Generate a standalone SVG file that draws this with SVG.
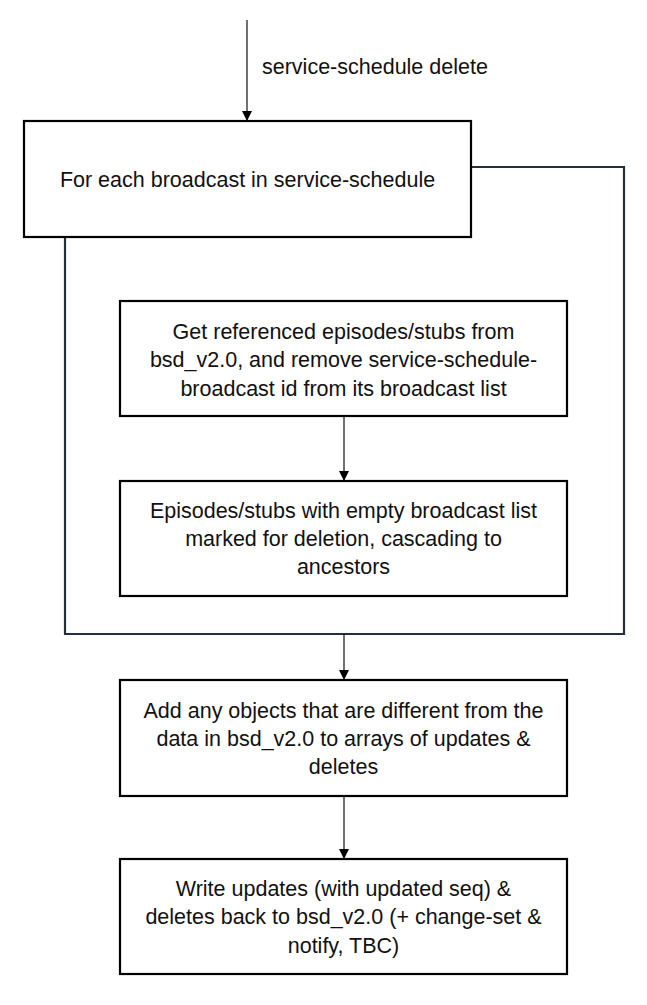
<svg xmlns="http://www.w3.org/2000/svg" width="647" height="1005" viewBox="0 0 647 1005">
<style>
.box{fill:#fff;stroke:#000;stroke-width:2.2}
.t{font-family:"Liberation Sans",Arial,sans-serif;font-size:21.5px;fill:#111;text-anchor:middle}
.lbl{font-family:"Liberation Sans",Arial,sans-serif;font-size:21.5px;fill:#111}
.conn{fill:none;stroke:#111;stroke-width:1.2}
.loop{fill:none;stroke:#26303c;stroke-width:2.2}
</style>
<defs>
<marker id="ah" viewBox="0 0 10 10" refX="10" refY="5" markerWidth="10" markerHeight="10" markerUnits="userSpaceOnUse" orient="auto">
<path d="M0,0 L10,5 L0,10 Z" fill="#000"/>
</marker>
</defs>
<rect width="647" height="1005" fill="#fff"/>
<g id="connectors">
<line class="conn" x1="247" y1="20" x2="247" y2="121" marker-end="url(#ah)"/>
<text class="lbl" x="262" y="74">service-schedule delete</text>
<polyline class="loop" points="471,167 624,167 624,634 65,634 65,237"/>
<line class="conn" x1="344" y1="416" x2="344" y2="481" marker-end="url(#ah)"/>
<line class="conn" x1="344" y1="634" x2="344" y2="680" marker-end="url(#ah)"/>
<line class="conn" x1="344" y1="796" x2="344" y2="859" marker-end="url(#ah)"/>
</g>
<g id="node-foreach">
<rect class="box" x="24" y="121" width="447" height="116"/>
<text class="t" x="247.5" y="187">For each broadcast in service-schedule</text>
</g>
<g id="node-get">
<rect class="box" x="120" y="301" width="447" height="115"/>
<text class="t" x="343.5" y="339">Get referenced episodes/stubs from</text>
<text class="t" x="343.5" y="367">bsd_v2.0, and remove service-schedule-</text>
<text class="t" x="343.5" y="396">broadcast id from its broadcast list</text>
</g>
<g id="node-mark">
<rect class="box" x="120" y="481" width="447" height="115"/>
<text class="t" x="343.5" y="518">Episodes/stubs with empty broadcast list</text>
<text class="t" x="343.5" y="546">marked for deletion, cascading to</text>
<text class="t" x="343.5" y="574">ancestors</text>
</g>
<g id="node-add">
<rect class="box" x="120" y="680" width="447" height="116"/>
<text class="t" x="343.5" y="718">Add any objects that are different from the</text>
<text class="t" x="343.5" y="746">data in bsd_v2.0 to arrays of updates &amp;</text>
<text class="t" x="343.5" y="774">deletes</text>
</g>
<g id="node-write">
<rect class="box" x="120" y="859" width="447" height="115"/>
<text class="t" x="343.5" y="896">Write updates (with updated seq) &amp;</text>
<text class="t" x="343.5" y="924">deletes back to bsd_v2.0 (+ change-set &amp;</text>
<text class="t" x="343.5" y="953">notify, TBC)</text>
</g>
</svg>
